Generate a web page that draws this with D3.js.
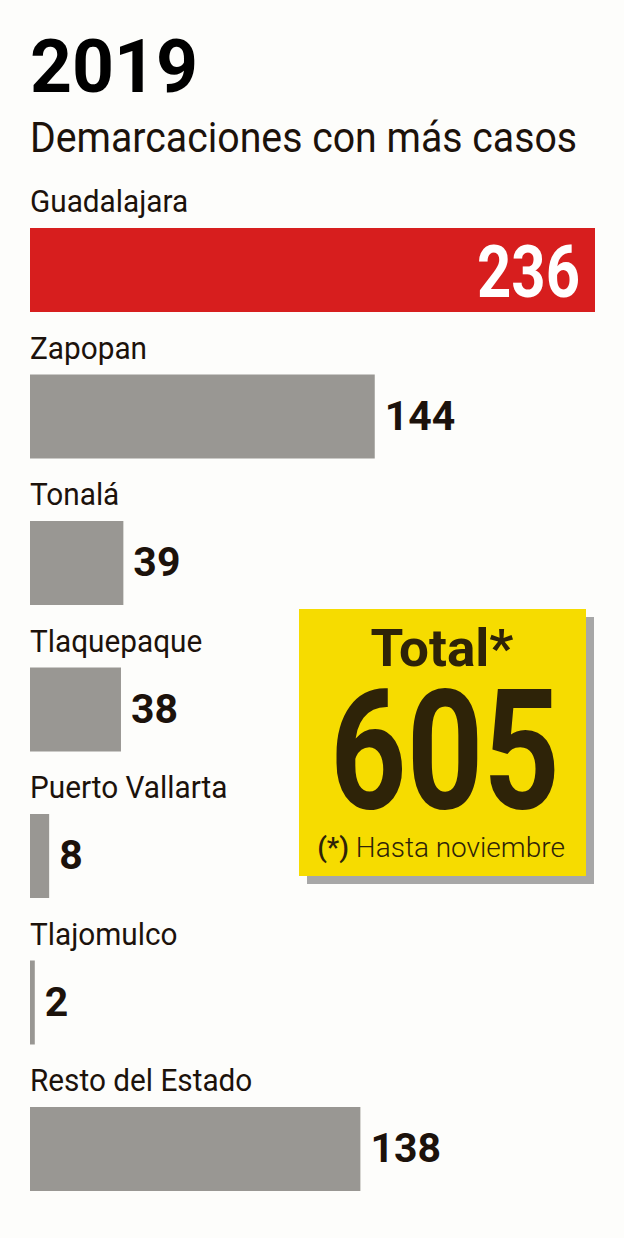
<!DOCTYPE html>
<html><head><meta charset="utf-8">
<script src="https://cdn.jsdelivr.net/npm/d3@7"></script>
<style>html,body{margin:0;padding:0;background:#fdfdfb;}svg{display:block;font-family:Roboto,sans-serif;}</style>
</head><body><div id="chart"></div>
<script>
const categories = ["Guadalajara","Zapopan","Tonalá","Tlaquepaque","Puerto Vallarta","Tlajomulco","Resto del Estado"];
const values = [236,144,39,38,8,2,138];
const highlight = ["Guadalajara"];
const titleText = "2019";
const subtitleText = "Demarcaciones con más casos";
const totalLabel = "Total*";
const totalValue = 605;
const noteMark = "(*)";
const noteText = " Hasta noviembre";

const W = 624, H = 1238;
const svg = d3.select("#chart").append("svg").attr("width", W).attr("height", H);
svg.append("rect").attr("width", W).attr("height", H).attr("fill", "#fdfdfb");
const ink = "#1c120b";

function ctext(x, y, txt, size, weight, fill, sx, anchor) {
  return svg.append("text")
    .attr("transform", `translate(${x},${y}) scale(${sx},1)`)
    .attr("font-size", size).attr("font-weight", weight)
    .attr("fill", fill).attr("text-anchor", anchor || "start").text(txt);
}

ctext(30, 92, titleText, 74, 700, "#000", 0.99);
ctext(30, 152, subtitleText, 42, 400, ink, 0.935);

const x = d3.scaleLinear().domain([0, d3.max(values)]).range([30, 595]);
const y = d3.scaleBand().domain(categories).range([166, 166 + 146.5 * categories.length]).paddingInner(0).paddingOuter(0);
const data = categories.map((c, i) => ({c, v: values[i]}));

const rows = svg.selectAll("g.row").data(data).join("g").attr("class", "row");
rows.append("text")
  .attr("transform", d => `translate(30,${y(d.c) + 46}) scale(0.96,1)`)
  .attr("font-size", 31).attr("fill", ink).text(d => d.c);
rows.append("rect")
  .attr("x", x(0)).attr("y", d => y(d.c) + 62)
  .attr("width", d => x(d.v) - x(0)).attr("height", 84)
  .attr("fill", d => highlight.includes(d.c) ? "#d71e1e" : "#999793");
rows.append("text")
  .attr("transform", d => highlight.includes(d.c)
      ? `translate(${x(d.v) - 15},${y(d.c) + 62 + 42 + 27}) scale(0.82,1)`
      : `translate(${x(d.v) + 10},${y(d.c) + 62 + 42 + 13})`)
  .attr("font-size", d => highlight.includes(d.c) ? 73 : 41)
  .attr("font-weight", 700)
  .attr("text-anchor", d => highlight.includes(d.c) ? "end" : "start")
  .attr("fill", d => highlight.includes(d.c) ? "#fff" : ink)
  .text(d => d.v);

// Total box
svg.append("rect").attr("x", 307).attr("y", 617).attr("width", 287).attr("height", 267).attr("fill", "#a7a7a7");
svg.append("rect").attr("x", 299).attr("y", 609).attr("width", 287).attr("height", 267).attr("fill", "#f6dc00");
ctext(442, 666, totalLabel, 52, 700, "#2e2308", 1.02, "middle");
ctext(445, 808, totalValue, 167, 700, "#2e2308", 0.8, "middle");
const note = svg.append("text").attr("x", 441).attr("y", 857).attr("text-anchor", "middle")
  .attr("font-size", 28).attr("fill", "#2e2308");
note.append("tspan").attr("font-weight", 500).text(noteMark);
note.append("tspan").attr("font-weight", 300).text(noteText);
</script></body></html>
